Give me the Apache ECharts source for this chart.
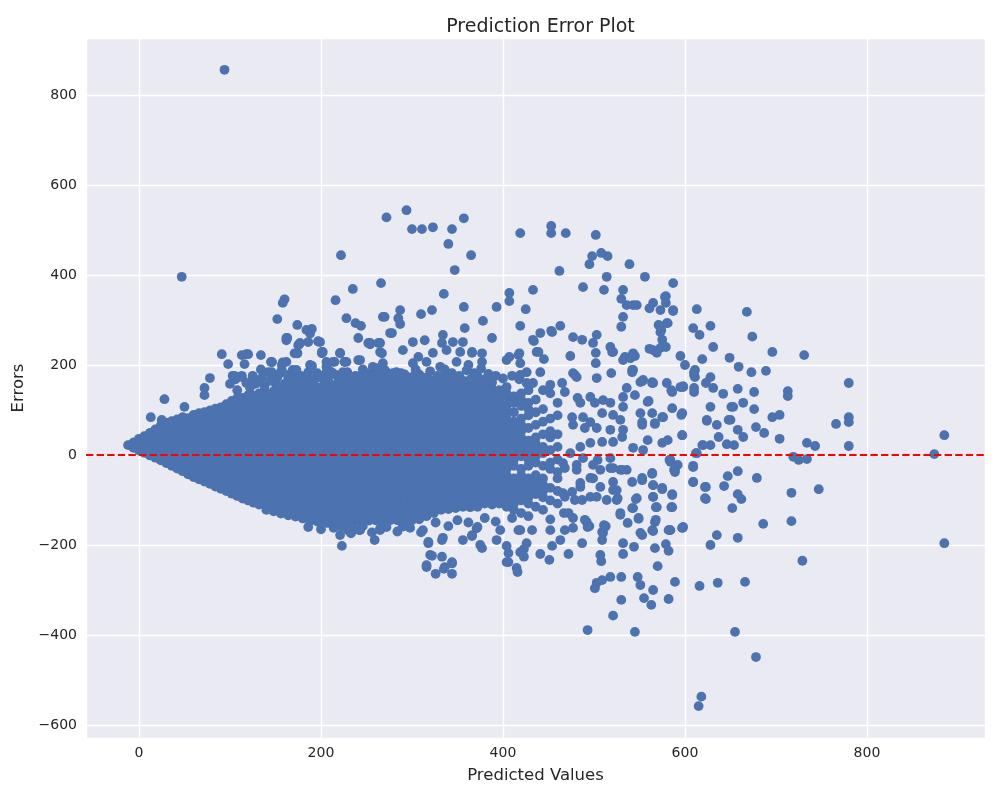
<!DOCTYPE html>
<html>
<head>
<meta charset="utf-8">
<script src="https://cdn.jsdelivr.net/npm/echarts@6/dist/echarts.min.js"></script>
<style>
html, body { margin: 0; padding: 0; background: #ffffff; }
#main { width: 1000px; height: 800px; }
</style>
</head>
<body>
<div id="main"></div>
<script>
// dense core of the cloud, read column by column: [predicted, [errors...]]
var coreLeft = [
    [-12, [22]],
    [-6, [16, 28]],
    [0, [10, 23, 36]],
    [6, [5, 18, 31, 42]],
    [12, [-1, 12, 25, 38, 49]],
    [18, [-6, 7, 21, 35, 48, 57]],
    [24, [-12, 2, 16, 30, 44, 57, 65]],
    [30, [-18, -4, 10, 24, 38, 52, 65, 72]],
    [36, [-24, -10, 4, 18, 32, 46, 60, 75]],
    [42, [-30, -16, -2, 12, 26, 40, 54, 67, 79]],
    [48, [-36, -22, -8, 6, 20, 34, 48, 62, 75, 84]],
    [54, [-43, -29, -15, -1, 13, 27, 41, 55, 69, 82]],
    [60, [-49, -35, -21, -7, 7, 21, 35, 49, 63, 77, 89]],
    [66, [-54, -40, -26, -12, 2, 16, 30, 44, 58, 72, 85, 93]],
    [72, [-59, -45, -31, -17, -3, 11, 25, 39, 53, 67, 81, 95]],
    [78, [-64, -50, -36, -22, -8, 6, 20, 34, 48, 62, 76, 90, 99]],
    [84, [-70, -56, -42, -28, -14, 0, 14, 28, 42, 56, 70, 84, 98, 103]],
    [90, [-75, -61, -47, -33, -19, -5, 9, 23, 37, 51, 65, 79, 93, 106]],
    [96, [-80, -66, -52, -38, -24, -10, 4, 18, 32, 46, 60, 74, 88, 102, 113]],
    [102, [-86, -72, -58, -44, -30, -16, -2, 12, 26, 40, 54, 68, 82, 96, 110, 120]],
    [108, [-91, -77, -63, -49, -35, -21, -7, 7, 21, 35, 49, 63, 77, 91, 105, 119, 127]],
    [114, [-97, -83, -69, -55, -41, -27, -13, 1, 15, 29, 43, 57, 71, 85, 99, 113, 127]],
    [120, [-101, -87, -73, -59, -45, -31, -17, -3, 11, 25, 39, 53, 67, 81, 95, 109, 123, 133]],
    [126, [-106, -92, -78, -64, -50, -36, -22, -8, 6, 20, 34, 48, 62, 76, 90, 104, 118, 132]],
    [132, [-110, -96, -82, -68, -54, -40, -26, -12, 2, 16, 30, 44, 58, 72, 86, 100, 114, 128, 137]]
];

var coreMid = [
    [140, [-122, -108, -94, -80, -66, -52, -38, -24, -10, 4, 18, 32, 46, 60, 74, 88, 102, 116, 130, 138]],
    [148, [-125, -115, -101, -87, -73, -59, -45, -31, -17, -3, 11, 25, 39, 53, 67, 81, 95, 109, 123, 137, 142]],
    [156, [-130, -122, -108, -94, -80, -66, -52, -38, -24, -10, 4, 18, 32, 46, 60, 74, 88, 102, 116, 130, 144]],
    [164, [-134, -129, -115, -101, -87, -73, -59, -45, -31, -17, -3, 11, 25, 39, 53, 67, 81, 95, 109, 123, 137, 150]],
    [172, [-137, -122, -108, -94, -80, -66, -52, -38, -24, -10, 4, 18, 32, 46, 60, 74, 88, 102, 116, 130, 144]],
    [180, [-141, -129, -115, -101, -87, -73, -59, -45, -31, -17, -3, 11, 25, 39, 53, 67, 81, 95, 109, 123, 137, 150]],
    [188, [-146, -136, -122, -108, -94, -80, -66, -52, -38, -24, -10, 4, 18, 32, 46, 60, 74, 88, 102, 116, 130, 144]],
    [196, [-148, -143, -129, -115, -101, -87, -73, -59, -45, -31, -17, -3, 11, 25, 39, 53, 67, 81, 95, 109, 123, 137, 151]],
    [204, [-150, -136, -122, -108, -94, -80, -66, -52, -38, -24, -10, 4, 18, 32, 46, 60, 74, 88, 102, 116, 130, 144, 158]],
    [212, [-150, -143, -129, -115, -101, -87, -73, -59, -45, -31, -17, -3, 11, 25, 39, 53, 67, 81, 95, 109, 123, 137, 151]],
    [220, [-150, -136, -122, -108, -94, -80, -66, -52, -38, -24, -10, 4, 18, 32, 46, 60, 74, 88, 102, 116, 130, 144, 158]],
    [228, [-150, -143, -129, -115, -101, -87, -73, -59, -45, -31, -17, -3, 11, 25, 39, 53, 67, 81, 95, 109, 123, 137, 151, 165]],
    [236, [-150, -136, -122, -108, -94, -80, -66, -52, -38, -24, -10, 4, 18, 32, 46, 60, 74, 88, 102, 116, 130, 144, 158, 172]],
    [244, [-147, -129, -115, -101, -87, -73, -59, -45, -31, -17, -3, 11, 25, 39, 53, 67, 81, 95, 109, 123, 137, 151, 165]],
    [252, [-146, -136, -122, -108, -94, -80, -66, -52, -38, -24, -10, 4, 18, 32, 46, 60, 74, 88, 102, 116, 130, 144, 158]],
    [260, [-145, -129, -115, -101, -87, -73, -59, -45, -31, -17, -3, 11, 25, 39, 53, 67, 81, 95, 109, 123, 137, 151, 164]],
    [268, [-146, -136, -122, -108, -94, -80, -66, -52, -38, -24, -10, 4, 18, 32, 46, 60, 74, 88, 102, 116, 130, 144, 158, 172]],
    [276, [-145, -129, -115, -101, -87, -73, -59, -45, -31, -17, -3, 11, 25, 39, 53, 67, 81, 95, 109, 123, 137, 151, 164]],
    [284, [-145, -136, -122, -108, -94, -80, -66, -52, -38, -24, -10, 4, 18, 32, 46, 60, 74, 88, 102, 116, 130, 144, 158, 170]],
    [292, [-145, -129, -115, -101, -87, -73, -59, -45, -31, -17, -3, 11, 25, 39, 53, 67, 81, 95, 109, 123, 137, 151, 165, 179]],
    [300, [-145, -136, -122, -108, -94, -80, -66, -52, -38, -24, -10, 4, 18, 32, 46, 60, 74, 88, 102, 116, 130, 144, 158, 172]]
];

var coreRight = [
    [308, [-143, -129, -115, -101, -87, -73, -59, -45, -31, -17, -3, 11, 25, 39, 53, 67, 81, 95, 109, 123, 137, 151, 165, 179]],
    [316, [-136, -122, -108, -94, -80, -66, -52, -38, -24, -10, 4, 18, 32, 46, 60, 74, 88, 102, 116, 130, 144, 158, 172]],
    [324, [-129, -115, -101, -87, -73, -59, -45, -31, -17, -3, 11, 25, 39, 53, 67, 81, 95, 109, 123, 137, 151, 165]],
    [332, [-122, -108, -94, -80, -66, -52, -38, -24, -10, 4, 18, 32, 46, 60, 74, 88, 102, 116, 128, 142, 156, 170]],
    [340, [-120, -115, -101, -87, -73, -59, -45, -31, -17, -3, 11, 25, 39, 53, 67, 81, 95, 109, 123, 137, 151, 165, 179]],
    [348, [-118, -108, -94, -80, -66, -52, -38, -24, -10, 4, 18, 32, 46, 60, 74, 88, 102, 116, 130, 144, 158, 172]],
    [356, [-115, -101, -87, -73, -59, -45, -31, -17, -3, 11, 25, 39, 53, 67, 81, 95, 109, 123, 137, 151, 165]],
    [364, [-116, -108, -94, -80, -66, -52, -38, -24, -10, 4, 18, 32, 46, 60, 74, 88, 102, 112, 126, 140, 154, 168]],
    [372, [-115, -101, -87, -73, -59, -45, -31, -17, -3, 11, 25, 39, 53, 67, 81, 95, 105, 119, 133, 147, 161, 175]],
    [380, [-108, -94, -80, -66, -52, -38, -24, -10, 4, 18, 32, 46, 60, 74, 88, 98, 112, 126, 140, 154, 168]],
    [388, [-110, -101, -87, -73, -59, -45, -31, -17, -3, 11, 25, 39, 53, 67, 81, 92, 105, 119, 133, 147, 161]],
    [396, [-108, -94, -80, -66, -52, -38, -24, -10, 4, 18, 32, 46, 60, 74, 88, 102, 116, 130, 144]],
    [404, [-115, -101, -87, -73, -59, -45, -31, -17, -3, 11, 25, 39, 53, 67, 81, 95, 109, 123, 137, 151]],
    [412, [-122, -108, -94, -80, -66, -52, -24, -10, 4, 18, 32, 46, 60, 74, 95, 116, 130]],
    [420, [-129, -101, -87, -73, -59, -45, -31, -3, 11, 25, 39, 53, 67, 81, 109, 123, 137]],
    [428, [-136, -108, -94, -80, -66, -52, -24, -10, 4, 18, 32, 60, 88, 102, 116, 144]],
    [436, [-115, -87, -73, -59, -45, -17, -3, 11, 25, 39, 67, 95, 123]],
    [444, [-122, -94, -80, -66, -52, -24, 4, 18, 46, 74, 102, 144]],
    [452, [-143, -101, -73, -31, -17, 11, 39, 53, 81, 137]],
    [460, [-108, -80, -52, -38, -10, 18, 46, 88, 116]]
];

// ragged fringe just above and below the core
var upperBand = [
    [100, 158], [106, 168], [118, 160], [128, 158], [134, 190], [146, 170], [150, 160], [164, 172],
    [170, 165], [178, 176], [186, 170], [192, 166], [200, 172], [208, 164], [216, 178], [222, 170],
    [230, 166], [238, 176], [248, 162], [256, 170], [264, 174], [270, 158], [280, 165], [288, 170],
    [296, 160], [304, 176], [312, 158], [320, 166], [328, 150], [336, 174], [344, 140], [352, 160],
    [360, 133], [368, 150], [376, 128], [384, 145], [392, 118], [400, 135],
    [122, 150], [130, 162], [138, 152], [144, 165], [152, 172], [160, 158], [166, 180], [172, 160],
    [180, 172], [186, 184], [192, 158], [198, 176], [204, 164], [210, 186], [218, 160], [224, 172],
    [232, 158], [240, 168], [246, 190], [252, 156], [258, 180], [264, 164], [272, 170], [280, 154],
    [288, 182], [296, 166], [304, 190], [312, 172], [320, 186], [328, 176], [336, 190], [344, 182],
    [352, 176], [360, 188], [368, 182], [376, 192], [384, 180], [392, 176], [400, 170], [410, 176],
    [418, 168], [426, 160], [103, 176], [113, 176], [125, 176], [146, 207], [157, 200], [162, 207],
    [146, 184], [162, 255], [174, 226], [177, 249], [190, 198], [199, 251], [201, 229], [206, 196],
    [215, 207], [221, 227], [226, 207], [241, 211], [252, 249], [265, 229], [257, 196], [270, 189],
    [283, 184], [169, 189], [155, 182], [177, 167], [195, 173], [213, 182], [235, 173], [250, 182],
    [184, 162]
];
var lowerBand = [
    [186, -160], [200, -165], [214, -162], [230, -168], [246, -158], [256, -172], [272, -160],
    [284, -170], [298, -162], [310, -172], [326, -150], [340, -158], [350, -145], [362, -150],
    [380, -140], [392, -148], [410, -140]
];

// single points outside the core
var upperLeft = [
    [28, 124], [13, 84], [50, 107], [25, 78], [78, 171], [72, 149], [72, 133], [91, 224], [98, 202],
    [113, 222], [118, 224], [116, 202], [104, 173], [113, 173], [134, 222], [108, 144], [125, 173],
    [146, 206], [158, 206], [162, 260], [175, 244], [171, 226], [188, 270], [197, 252], [201, 226],
    [171, 184], [184, 162], [188, 200], [142, 184], [155, 182], [135, 171], [105, 176], [145, 207],
    [173, 189], [157, 189], [190, 198], [47, 396], [160, 346], [158, 338], [152, 302], [174, 289],
    [184, 278], [190, 280], [163, 260], [176, 246], [186, 251], [197, 253], [174, 226], [120, 224],
    [94, 856]
];
var upperMid = [
    [206, 207], [221, 226], [226, 207], [241, 260], [243, 211], [254, 249], [265, 249], [267, 226],
    [278, 271], [272, 184], [290, 233], [301, 251], [314, 255], [323, 227], [334, 267], [333, 249],
    [345, 251], [356, 251], [349, 207], [362, 200], [366, 229], [377, 226], [388, 260], [377, 207],
    [301, 204], [316, 207], [331, 196], [386, 171], [287, 178], [246, 182], [224, 184], [206, 184],
    [202, 229], [222, 444], [266, 382], [235, 369], [216, 344], [228, 304], [238, 293], [244, 287],
    [268, 307], [276, 271], [254, 246], [263, 249], [287, 322], [285, 304], [272, 528], [294, 544],
    [300, 502], [311, 502], [323, 506], [344, 502], [357, 526], [340, 469], [365, 444], [347, 411],
    [335, 358], [287, 291], [310, 313], [322, 322], [357, 329], [393, 329], [378, 298], [358, 282],
    [213, 207], [228, 207], [243, 173], [252, 178], [262, 193], [268, 204], [300, 173], [290, 160],
    [274, 162], [262, 160], [279, 182], [213, 182], [196, 182], [229, 184], [338, 233], [307, 218],
    [353, 229], [366, 227], [270, 307]
];
var upperRight = [
    [407, 360], [407, 342], [433, 367], [425, 324], [419, 493], [453, 509], [453, 493], [469, 493],
    [502, 489], [462, 409], [498, 442], [495, 424], [508, 449], [515, 442], [539, 424], [514, 396],
    [488, 373], [511, 367], [556, 396], [587, 382], [532, 367], [530, 347], [536, 333], [547, 333],
    [561, 326], [565, 338], [579, 353], [579, 338], [587, 322], [573, 322], [532, 307], [530, 285],
    [613, 324], [609, 282], [571, 289], [573, 273], [580, 293], [575, 256], [561, 236], [569, 227],
    [579, 240], [595, 220], [600, 200], [611, 189], [611, 173], [542, 189], [553, 164], [564, 160],
    [580, 160], [595, 151], [503, 267], [499, 249], [487, 256], [477, 262], [463, 287], [453, 276],
    [441, 271], [434, 253], [437, 229], [445, 213], [419, 287], [502, 227], [502, 204], [521, 229],
    [518, 240], [534, 218], [545, 220], [474, 220], [477, 182], [439, 229], [418, 226], [404, 211],
    [417, 222], [419, 204], [426, 184], [407, 218], [433, 256], [454, 273], [481, 173], [465, 160],
    [433, 160], [419, 178], [441, 184], [540, 218], [532, 211], [543, 226], [578, 351], [587, 320],
    [543, 333], [574, 278], [581, 293], [520, 229], [540, 215], [565, 233], [573, 238], [543, 189]
];
var farRight = [
    [668, 318], [674, 263], [628, 287], [616, 267], [696, 229], [731, 222], [631, 240], [649, 216],
    [659, 196], [673, 184], [689, 187], [619, 213], [780, 160], [713, 142], [713, 131], [676, 140],
    [658, 147], [642, 136], [631, 149], [628, 173], [610, 184], [610, 149], [598, 151], [664, 116],
    [653, 107], [650, 78], [676, 102], [704, 89], [696, 84], [766, 69], [780, 84], [780, 73],
    [780, 20], [704, 36], [734, 27], [743, 20], [885, 44], [874, 2], [885, -196], [719, -4],
    [725, -11], [734, -9], [729, -235], [747, -76], [717, -84], [717, -147], [686, -153], [679, -51],
    [658, -184], [635, -178], [628, -200], [662, -98], [658, -87], [652, -118], [643, -69], [647, -47],
    [658, -36], [623, -71], [623, -98], [609, -60], [609, -24], [612, 4], [619, 22], [628, 22],
    [637, 40], [646, 24], [654, 22], [664, 40], [678, 62], [687, 49], [648, 78], [635, 67],
    [624, 76], [628, 107], [651, 107], [658, 56], [597, 44], [597, -162], [583, -167], [585, -116],
    [586, -87], [583, -11], [589, -33], [596, 89], [585, 144], [575, 84], [567, 69], [553, 67],
    [560, 120], [551, 162], [564, 162], [636, -284], [666, -282], [655, -393], [678, -449]
];
var middleRight = [
    [479, 178], [503, 171], [519, 182], [542, 184], [554, 167], [565, 160], [586, 140], [598, 153],
    [610, 178], [610, 140], [623, 160], [452, 156], [468, 140], [482, 127], [496, 129], [510, 122],
    [536, 149], [545, 133], [559, 118], [532, 129], [551, 93], [576, 84], [567, 71], [586, 104],
    [597, 93], [597, 44], [581, 33], [575, 27], [559, 33], [543, 16], [554, 11], [620, 22],
    [613, 4], [624, 78], [609, -27], [622, -71], [622, -96], [584, -11], [592, -22], [564, -40],
    [565, -67], [575, -73], [586, -89], [586, -116], [565, -93], [569, -116], [547, -96], [553, -56],
    [542, -60], [543, -118], [549, -140], [567, -149], [564, -167], [584, -167], [598, -160], [529, -129],
    [537, -151], [551, -173], [512, -160], [492, -149], [472, -129], [496, -93], [507, -71], [521, -78],
    [526, -96], [531, -33], [521, -29], [536, -33], [507, -33], [496, -51], [481, -33], [488, -7],
    [504, -11], [518, -7], [485, -71], [476, -82], [468, -93], [479, -100], [466, -18], [474, 4],
    [485, 18], [496, 27], [509, 29], [521, 29], [531, 40], [532, 56], [518, 56], [503, 60],
    [490, 60], [477, 67], [476, 84], [488, 84], [496, 73], [509, 93], [521, 89], [532, 107],
    [518, 116], [501, 116], [485, 116], [529, 78], [553, 73], [564, 93]
];
var lowerScatter = [
    [221, -178], [223, -202], [235, -167], [243, -167], [259, -189], [265, -163], [290, -159], [312, -167],
    [318, -196], [320, -222], [333, -189], [333, -226], [344, -238], [356, -189], [366, -178], [375, -200],
    [393, -189], [406, -238], [419, -216], [426, -196], [419, -167], [397, -167], [316, -249], [336, -249],
    [415, -251], [371, -163], [291, -158], [318, -193], [322, -224], [316, -245], [326, -264], [335, -253],
    [344, -241], [344, -264], [334, -184], [366, -180], [377, -207], [372, -160], [404, -202], [406, -218],
    [404, -238], [416, -260], [423, -209], [423, -226], [417, -167], [432, -167], [441, -220], [452, -167],
    [451, -233], [454, -202], [463, -189], [468, -167], [472, -220], [477, -140], [490, -144], [495, -158],
    [487, -196], [467, -129], [466, -85], [507, -222], [508, -236], [509, -189], [510, -173], [513, -158],
    [518, -271], [509, -278], [501, -296], [503, -284], [530, -271], [521, -357], [493, -389], [530, -322],
    [545, -393], [548, -271], [551, -289], [555, -318], [563, -333], [565, -300], [582, -320], [589, -282],
    [570, -247], [579, -198], [582, -213], [567, -207], [532, -196], [532, -220], [544, -204], [553, -178],
    [565, -169], [582, -167], [597, -162], [568, -144], [549, -142], [542, -118], [546, -98], [565, -93],
    [568, -116], [575, -76], [565, -67], [564, -42], [588, -33], [609, -60], [615, -558], [618, -537],
    [616, -291], [553, -51], [521, -60], [525, -78], [525, -100], [529, -133], [509, -171], [511, -156],
    [493, -160], [477, -162], [485, -62], [499, -52], [503, -93], [514, -100], [487, -100], [468, -29],
    [481, -22], [499, -22], [518, -29], [529, -33], [584, -15], [589, -38], [233, -174], [234, -155],
    [242, -167], [265, -167], [210, -129], [207, -151], [223, -160]
];

var fontFamily = 'DejaVu Sans';
var textColor = '#262626';

function columnsToPoints(cols) {
    var out = [];
    cols.forEach(function (c) {
        c[1].forEach(function (y) { out.push([c[0], y]); });
    });
    return out;
}

var points = columnsToPoints(coreLeft)
    .concat(columnsToPoints(coreMid), columnsToPoints(coreRight))
    .concat(upperBand, lowerBand, upperLeft, upperMid, upperRight, farRight, middleRight, lowerScatter);

function minusSign(v) {
    return String(v).replace('-', '\u2212');
}

var myChart = echarts.init(document.getElementById('main'));

var option = {
    animation: false,
    backgroundColor: '#ffffff',
    title: {
        text: 'Prediction Error Plot',
        left: 535.5,
        top: 13,
        textAlign: 'center',
        textStyle: { fontFamily: fontFamily, fontSize: 19, fontWeight: 'normal', color: textColor }
    },
    grid: {
        left: 86,
        right: 15,
        top: 38,
        bottom: 62,
        show: true,
        backgroundColor: '#eaeaf2',
        borderWidth: 0
    },
    xAxis: {
        type: 'value',
        min: -58.2,
        max: 929.7,
        splitNumber: 5,
        name: 'Predicted Values',
        nameLocation: 'middle',
        nameGap: 29,
        nameTextStyle: { fontFamily: fontFamily, fontSize: 16.5, color: textColor },
        axisLine: { show: false },
        axisTick: { show: false },
        axisLabel: {
            showMinLabel: false,
            showMaxLabel: false,
            margin: 8,
            fontFamily: fontFamily,
            fontSize: 14,
            color: textColor,
            formatter: minusSign
        },
        splitLine: { show: true, lineStyle: { color: '#ffffff', width: 1.4 } }
    },
    yAxis: {
        type: 'value',
        min: -628.9,
        max: 926.7,
        splitNumber: 8,
        name: 'Errors',
        nameLocation: 'middle',
        nameGap: 52,
        nameTextStyle: { fontFamily: fontFamily, fontSize: 16.5, color: textColor },
        axisLine: { show: false },
        axisTick: { show: false },
        axisLabel: {
            showMinLabel: false,
            showMaxLabel: false,
            margin: 9,
            fontFamily: fontFamily,
            fontSize: 14,
            color: textColor,
            formatter: minusSign
        },
        splitLine: { show: true, lineStyle: { color: '#ffffff', width: 1.4 } }
    },
    series: [
        {
            type: 'scatter',
            data: points,
            symbol: 'circle',
            symbolSize: 9.8,
            itemStyle: { color: '#4c72b0', opacity: 1 },
            silent: true,
            markLine: {
                silent: true,
                symbol: 'none',
                label: { show: false },
                lineStyle: { color: '#ff0000', width: 2, type: [7.4, 3.2] },
                data: [{ yAxis: 0 }]
            }
        }
    ]
};
myChart.setOption(option);
</script>
</body>
</html>
